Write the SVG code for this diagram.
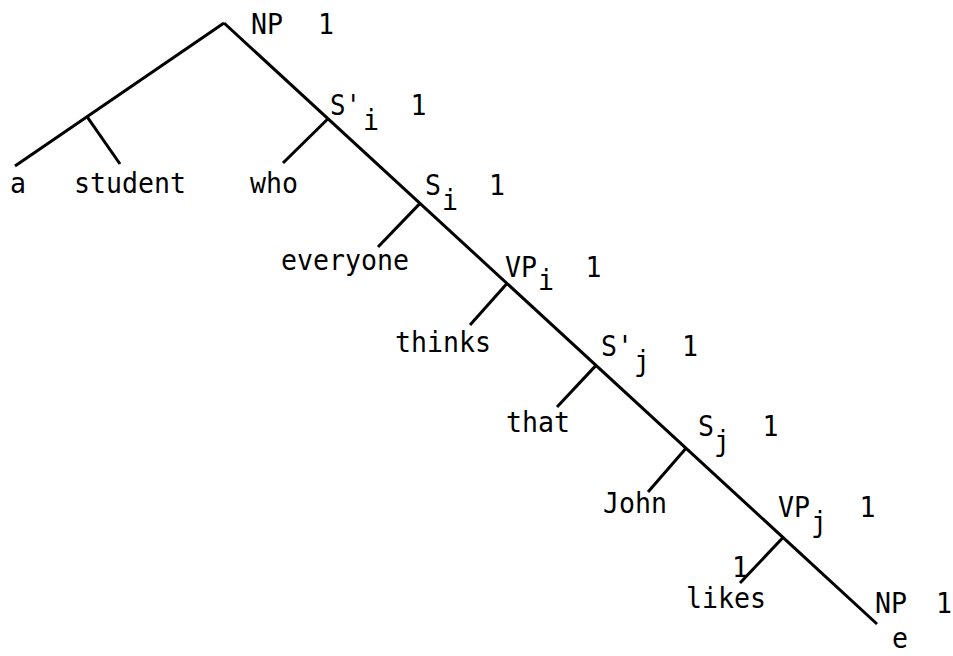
<svg xmlns="http://www.w3.org/2000/svg" width="953" height="656" viewBox="0 0 953 656">
<style>
  text { font-family: "DejaVu Sans Mono", "Liberation Mono", monospace; font-size: 29px; fill: #000; }
  .c { text-anchor: middle; }
  .edge { stroke: #000; stroke-width: 3; fill: none; stroke-linecap: butt; }
</style>
<rect width="953" height="656" fill="#fff"/>
<g id="connectors">
  <line class="edge" x1="224" y1="23" x2="15" y2="166"/>
  <line class="edge" x1="224" y1="23" x2="877" y2="624"/>
  <line class="edge" x1="87" y1="116.7" x2="120" y2="164"/>
  <line class="edge" x1="328" y1="118.7" x2="283" y2="163"/>
  <line class="edge" x1="420" y1="203.4" x2="378" y2="247"/>
  <line class="edge" x1="507" y1="283.5" x2="470" y2="325"/>
  <line class="edge" x1="596" y1="365.4" x2="557" y2="407"/>
  <line class="edge" x1="686" y1="448.2" x2="648" y2="492"/>
  <line class="edge" x1="783" y1="537.5" x2="740" y2="583"/>
</g>
<g id="node-NP-top"><text x="251" y="34" textLength="32" lengthAdjust="spacingAndGlyphs">NP</text><text class="c" x="326" y="34" textLength="16" lengthAdjust="spacingAndGlyphs">1</text></g>
<g id="node-a"><text x="10" y="193" textLength="16" lengthAdjust="spacingAndGlyphs">a</text></g>
<g id="node-student"><text x="74" y="193" textLength="112" lengthAdjust="spacingAndGlyphs">student</text></g>
<g id="node-Sbar-i"><text x="330" y="115" textLength="31" lengthAdjust="spacingAndGlyphs">S'</text><text class="c" x="371" y="130" textLength="16" lengthAdjust="spacingAndGlyphs">i</text><text class="c" x="418.5" y="115" textLength="16" lengthAdjust="spacingAndGlyphs">1</text></g>
<g id="node-who"><text x="250" y="193" textLength="48" lengthAdjust="spacingAndGlyphs">who</text></g>
<g id="node-S-i"><text x="425" y="195" textLength="16" lengthAdjust="spacingAndGlyphs">S</text><text class="c" x="450" y="210" textLength="16" lengthAdjust="spacingAndGlyphs">i</text><text class="c" x="497" y="195" textLength="16" lengthAdjust="spacingAndGlyphs">1</text></g>
<g id="node-everyone"><text x="281" y="270" textLength="128" lengthAdjust="spacingAndGlyphs">everyone</text></g>
<g id="node-VP-i"><text x="505" y="277" textLength="32" lengthAdjust="spacingAndGlyphs">VP</text><text class="c" x="546" y="290" textLength="16" lengthAdjust="spacingAndGlyphs">i</text><text class="c" x="593.5" y="277" textLength="16" lengthAdjust="spacingAndGlyphs">1</text></g>
<g id="node-thinks"><text x="395" y="352" textLength="96" lengthAdjust="spacingAndGlyphs">thinks</text></g>
<g id="node-Sbar-j"><text x="601" y="356" textLength="32" lengthAdjust="spacingAndGlyphs">S'</text><text class="c" x="642" y="371" textLength="16" lengthAdjust="spacingAndGlyphs">j</text><text class="c" x="690" y="356" textLength="16" lengthAdjust="spacingAndGlyphs">1</text></g>
<g id="node-that"><text x="506" y="432" textLength="64" lengthAdjust="spacingAndGlyphs">that</text></g>
<g id="node-S-j"><text x="698" y="436" textLength="16" lengthAdjust="spacingAndGlyphs">S</text><text class="c" x="722" y="451" textLength="16" lengthAdjust="spacingAndGlyphs">j</text><text class="c" x="770.5" y="436" textLength="16" lengthAdjust="spacingAndGlyphs">1</text></g>
<g id="node-John"><text x="603" y="513" textLength="64" lengthAdjust="spacingAndGlyphs">John</text></g>
<g id="node-VP-j"><text x="778" y="517" textLength="32" lengthAdjust="spacingAndGlyphs">VP</text><text class="c" x="819" y="532" textLength="16" lengthAdjust="spacingAndGlyphs">j</text><text class="c" x="867.5" y="517" textLength="16" lengthAdjust="spacingAndGlyphs">1</text></g>
<g id="node-likes"><text class="c" x="740" y="577" textLength="16" lengthAdjust="spacingAndGlyphs">1</text><text x="686" y="608" textLength="80" lengthAdjust="spacingAndGlyphs">likes</text></g>
<g id="node-NP-e"><text x="875" y="613" textLength="32" lengthAdjust="spacingAndGlyphs">NP</text><text class="c" x="944" y="613" textLength="16" lengthAdjust="spacingAndGlyphs">1</text><text class="c" x="900" y="648" textLength="16" lengthAdjust="spacingAndGlyphs">e</text></g>
</svg>
